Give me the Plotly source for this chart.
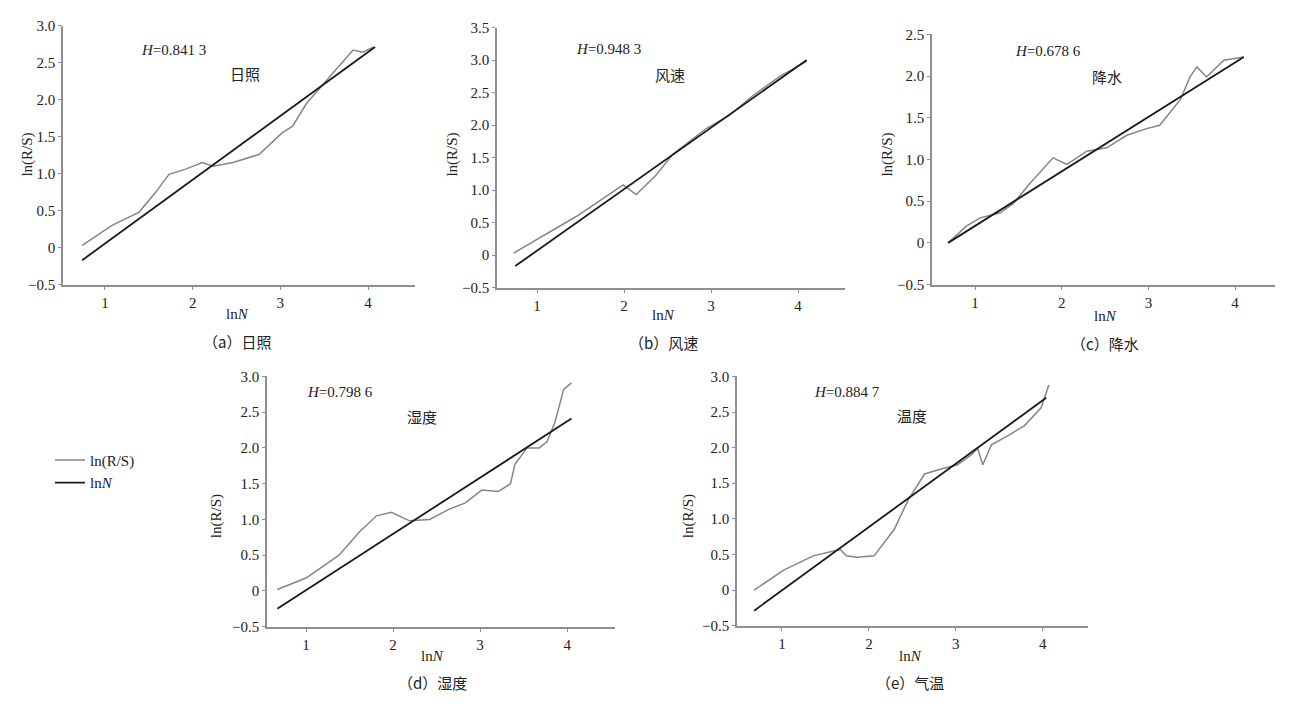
import plotly.graph_objects as go

W, H = 1289, 704

# ---------------- data ----------------
names = ["日照", "风速", "降水", "湿度", "气温"]
inner_labels = ["日照", "风速", "降水", "湿度", "温度"]
captions = ["（a）日照", "（b）风速", "（c）降水", "（d）湿度", "（e）气温"]
hurst = ["0.841 3", "0.948 3", "0.678 6", "0.798 6", "0.884 7"]

# ln(R/S) curves
rs_x_a = [0.74, 1.08, 1.39, 1.58, 1.73, 1.92, 2.11, 2.23, 2.46, 2.76, 3.02, 3.14, 3.30, 3.60, 3.83, 3.94, 4.06]
rs_y_a = [0.03, 0.30, 0.48, 0.75, 0.99, 1.06, 1.15, 1.10, 1.15, 1.26, 1.55, 1.64, 1.95, 2.35, 2.67, 2.64, 2.71]

rs_x_b = [0.73, 0.92, 1.19, 1.46, 1.99, 2.14, 2.37, 2.56, 2.95, 3.21, 3.48, 3.79, 4.10]
rs_y_b = [0.03, 0.18, 0.40, 0.60, 1.08, 0.93, 1.23, 1.55, 1.95, 2.15, 2.45, 2.75, 2.98]

rs_x_c = [0.69, 0.90, 1.06, 1.29, 1.44, 1.63, 1.90, 2.06, 2.29, 2.52, 2.75, 2.98, 3.13, 3.37, 3.48, 3.56, 3.67, 3.87, 4.10]
rs_y_c = [0.00, 0.20, 0.30, 0.36, 0.47, 0.71, 1.02, 0.94, 1.10, 1.14, 1.29, 1.37, 1.41, 1.72, 1.99, 2.11, 1.99, 2.19, 2.23]

rs_x_d = [0.67, 1.00, 1.38, 1.61, 1.81, 1.98, 2.19, 2.42, 2.64, 2.83, 3.02, 3.21, 3.35, 3.40, 3.54, 3.68, 3.77, 3.86, 3.96, 4.05]
rs_y_d = [0.02, 0.18, 0.50, 0.82, 1.05, 1.10, 0.98, 1.00, 1.14, 1.23, 1.41, 1.39, 1.50, 1.77, 2.00, 2.00, 2.09, 2.36, 2.82, 2.91]

rs_x_e = [0.68, 1.02, 1.36, 1.67, 1.74, 1.86, 2.06, 2.29, 2.45, 2.64, 2.83, 3.02, 3.18, 3.25, 3.31, 3.41, 3.60, 3.79, 3.98, 4.07]
rs_y_e = [0.00, 0.28, 0.48, 0.57, 0.48, 0.46, 0.48, 0.85, 1.26, 1.63, 1.70, 1.76, 1.90, 1.99, 1.76, 2.04, 2.17, 2.31, 2.56, 2.88]

# fitted lnN lines (endpoints)
fit_x_a = [0.74, 4.08]; fit_y_a = [-0.17, 2.71]
fit_x_b = [0.75, 4.10]; fit_y_b = [-0.17, 3.00]
fit_x_c = [0.69, 4.10]; fit_y_c = [0.00, 2.23]
fit_x_d = [0.67, 4.05]; fit_y_d = [-0.25, 2.41]
fit_x_e = [0.68, 4.04]; fit_y_e = [-0.29, 2.70]

y_ticks_a = [-0.5, 0, 0.5, 1.0, 1.5, 2.0, 2.5, 3.0]
y_ticks_b = [-0.5, 0, 0.5, 1.0, 1.5, 2.0, 2.5, 3.0, 3.5]
y_ticks_c = [-0.5, 0, 0.5, 1.0, 1.5, 2.0, 2.5]
x_ticks = [1, 2, 3, 4]

rs_xs = [rs_x_a, rs_x_b, rs_x_c, rs_x_d, rs_x_e]
rs_ys = [rs_y_a, rs_y_b, rs_y_c, rs_y_d, rs_y_e]
fit_xs = [fit_x_a, fit_x_b, fit_x_c, fit_x_d, fit_x_e]
fit_ys = [fit_y_a, fit_y_b, fit_y_c, fit_y_d, fit_y_e]
y_tick_sets = [y_ticks_a, y_ticks_b, y_ticks_c, y_ticks_a, y_ticks_a]

# ---------------- layout (pixels) ----------------
panels = [
    dict(px=(63, 415), py=(18, 283), xr=(0.521, 4.536), yr=(-0.5, 3.0),
         ytitle=(28, 150), xt=(237, 313), cap=(237, 341), ht=(173, 43), lab=(245, 67)),
    dict(px=(497, 845), py=(20, 286), xr=(0.54, 4.54), yr=(-0.5, 3.5),
         ytitle=(453, 150), xt=(663, 314), cap=(663, 342), ht=(608, 42), lab=(670, 68)),
    dict(px=(932, 1275), py=(27, 283), xr=(0.504, 4.46), yr=(-0.5, 2.5),
         ytitle=(888, 150), xt=(1105, 315), cap=(1105, 343), ht=(1048, 44), lab=(1107, 70)),
    dict(px=(267, 615), py=(377, 633), xr=(0.552, 4.55), yr=(-0.5, 3.0),
         ytitle=(216, 520), xt=(432, 663), cap=(432, 690), ht=(340, 393), lab=(422, 418)),
    dict(px=(737, 1088), py=(377, 632), xr=(0.483, 4.52), yr=(-0.5, 3.0),
         ytitle=(688, 520), xt=(910, 663), cap=(910, 690), ht=(847, 393), lab=(912, 417)),
]

SERIF = "Liberation Serif"
CJK = "Noto Sans CJK SC"
RS_COLOR = "#858585"
FIT_COLOR = "#1a1a1a"
AXIS_COLOR = "#8f8f8f"
TEXT_COLOR = "#222"

fig = go.Figure()
layout = dict(
    width=W, height=H,
    margin=dict(l=0, r=0, t=0, b=0),
    paper_bgcolor="white", plot_bgcolor="white",
    showlegend=True,
    legend=dict(x=50 / W, y=1 - 446 / H, xanchor="left", yanchor="top",
                font=dict(family=SERIF, size=15, color=TEXT_COLOR),
                bgcolor="rgba(0,0,0,0)", itemwidth=30, tracegroupgap=0),
)
annotations = []

for i, p in enumerate(panels):
    xa = "x" if i == 0 else f"x{i+1}"
    ya = "y" if i == 0 else f"y{i+1}"
    xkey = "xaxis" if i == 0 else f"xaxis{i+1}"
    ykey = "yaxis" if i == 0 else f"yaxis{i+1}"

    fig.add_trace(go.Scatter(x=rs_xs[i], y=rs_ys[i], mode="lines", xaxis=xa, yaxis=ya,
                             line=dict(color=RS_COLOR, width=1.5),
                             name="ln(R/S)", showlegend=(i == 0)))
    fig.add_trace(go.Scatter(x=fit_xs[i], y=fit_ys[i], mode="lines", xaxis=xa, yaxis=ya,
                             line=dict(color=FIT_COLOR, width=1.8),
                             name="ln<i>N</i>", showlegend=(i == 0)))

    layout[xkey] = dict(domain=[p["px"][0] / W, p["px"][1] / W], range=list(p["xr"]),
                        anchor=ya, showgrid=False, zeroline=False,
                        showline=True, linecolor=AXIS_COLOR, linewidth=1.5,
                        tickvals=x_ticks, ticktext=[str(t) for t in x_ticks],
                        ticks="outside", ticklen=4, tickcolor=AXIS_COLOR,
                        tickfont=dict(family=SERIF, size=15, color=TEXT_COLOR))
    yt = y_tick_sets[i]
    ytext = [("−0.5" if v == -0.5 else ("0" if v == 0 else f"{v:.1f}")) for v in yt]
    layout[ykey] = dict(domain=[1 - p["py"][1] / H, 1 - p["py"][0] / H], range=list(p["yr"]),
                        anchor=xa, showgrid=False, zeroline=False,
                        showline=True, linecolor=AXIS_COLOR, linewidth=1.5,
                        tickvals=yt, ticktext=ytext,
                        ticks="outside", ticklen=3, tickcolor=AXIS_COLOR,
                        tickfont=dict(family=SERIF, size=15, color=TEXT_COLOR))

    def ann(text, xy, size=15, family=SERIF, angle=0):
        annotations.append(dict(text=text, x=xy[0] / W, y=1 - xy[1] / H,
                                xref="paper", yref="paper", showarrow=False,
                                xanchor="center", yanchor="middle", textangle=angle,
                                font=dict(family=family, size=size, color=TEXT_COLOR)))

    ann("ln(R/S)", p["ytitle"], size=15, angle=-90)
    ann("ln<i>N</i>", p["xt"], size=15)
    ann(captions[i], p["cap"], size=15, family=CJK)
    ann(f"<i>H</i>=0.{hurst[i][2:]}", p["ht"], size=15)
    ann(inner_labels[i], p["lab"], size=15, family=CJK)

layout["annotations"] = annotations
fig.update_layout(**layout)
fig.write_html("out.html")
